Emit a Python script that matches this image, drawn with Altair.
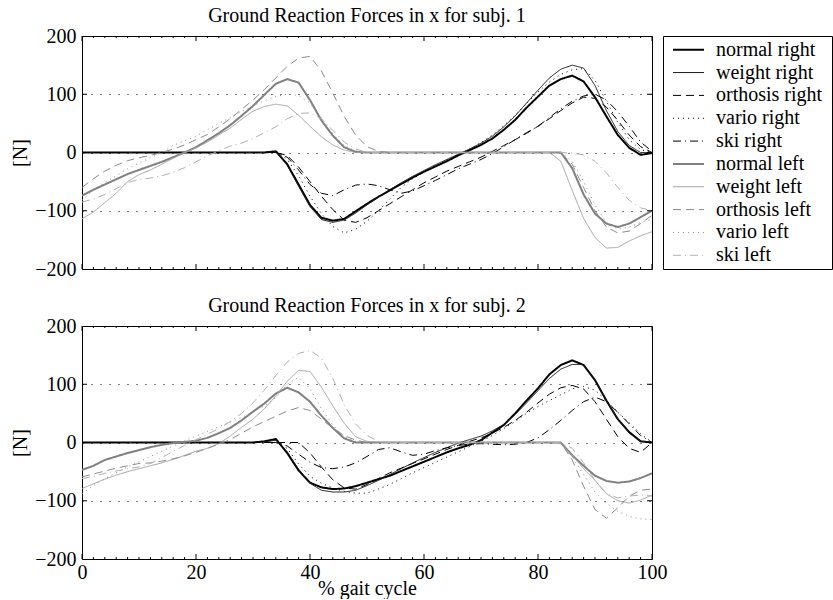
import altair as alt
import pandas as pd

# ---------------- data ----------------
X = [0, 2, 4, 6, 8, 10, 12, 14, 16, 18,
     20, 22, 24, 26, 28, 30, 32, 34, 36, 38,
     40, 42, 44, 46, 48, 50, 52, 54, 56, 58,
     60, 62, 64, 66, 68, 70, 72, 74, 76, 78,
     80, 82, 84, 86, 88, 90, 92, 94, 96, 98,
     100]

SERIES = ["normal right", "weight right", "orthosis right", "vario right", "ski right",
          "normal left", "weight left", "orthosis left", "vario left", "ski left"]
COLORS = ["#000000", "#1a1a1a", "#000000", "#000000", "#000000",
          "#808080", "#a3a3a3", "#8c8c8c", "#8c8c8c", "#b0b0b0"]
DASHES = [[1, 0], [1, 0], [8, 5], [1, 4], [8, 4, 1, 4],
          [1, 0], [1, 0], [8, 5], [1, 4], [8, 4, 1, 4]]
WIDTHS = [2, 1, 1, 1, 1, 2, 1, 1, 1, 1]

# subject 1
t_normal_right = [0, 0, 0, 0, 0, 0, 0, 0, 0, 0,
                  0, 0, 0, 0, 0, 0, 0, 2, -20, -55,
                  -90, -112, -117, -114, -101, -88, -76, -65, -54, -43,
                  -33, -24, -15, -5, 4, 13, 24, 39, 56, 77,
                  96, 115, 126, 132, 122, 95, 62, 30, 8, -4,
                  -1]
t_weight_right = [0, 0, 0, 0, 0, 0, 0, 0, 0, 0,
                  0, 0, 0, 0, 0, 0, 0, 2, -22, -58,
                  -93, -115, -120, -116, -104, -90, -77, -64, -52, -41,
                  -31, -21, -12, -3, 6, 16, 28, 44, 63, 85,
                  107, 128, 143, 150, 145, 115, 72, 36, 12, 0,
                  0]
t_orthosis_right = [0, 0, 0, 0, 0, 0, 0, 0, 0, 0,
                    0, 0, 0, 0, 0, 0, 0, 0, -5, -25,
                    -50, -75, -98, -116, -120, -112, -100, -88, -76, -64,
                    -52, -42, -32, -24, -16, -8, 2, 12, 22, 33,
                    45, 58, 72, 85, 95, 93, 78, 55, 30, 10,
                    0]
t_vario_right = [0, 0, 0, 0, 0, 0, 0, 0, 0, 0,
                 0, 0, 0, 0, 0, 0, 0, 3, -12, -40,
                 -75, -105, -127, -138, -132, -118, -100, -80, -60, -45,
                 -33, -22, -13, -4, 6, 17, 30, 46, 64, 84,
                 104, 121, 134, 142, 144, 124, 88, 52, 22, 5,
                 0]
t_ski_right = [0, 0, 0, 0, 0, 0, 0, 0, 0, 0,
               0, 0, 0, 0, 0, 0, 0, 0, -8, -30,
               -55, -70, -74, -64, -56, -54, -57, -64, -70, -66,
               -57, -48, -38, -28, -20, -12, -2, 10, 22, 34,
               45, 60, 75, 88, 97, 100, 90, 70, 45, 18,
               2]
t_normal_left = [-74, -64, -55, -46, -37, -30, -23, -16, -8, 0,
                 9, 21, 33, 47, 63, 80, 99, 118, 126, 120,
                 90, 55, 29, 9, 1, 0, 0, 0, 0, 0,
                 0, 0, 0, 0, 0, 0, 0, 0, 0, 0,
                 0, 0, 0, -27, -72, -105, -122, -128, -122, -111,
                 -100]
t_weight_left = [-114, -102, -86, -70, -50, -38, -30, -20, -10, 0,
                 8, 18, 30, 42, 57, 71, 79, 83, 80, 64,
                 45, 27, 13, 4, 0, 0, 0, 0, 0, 0,
                 0, 0, 0, 0, 0, 0, 0, 0, 0, 0,
                 0, 0, -15, -65, -113, -146, -164, -163, -152, -143,
                 -136]
t_orthosis_left = [-60, -45, -32, -22, -14, -9, -5, 0, 6, 13,
                   22, 31, 44, 58, 74, 90, 108, 128, 148, 162,
                   165, 140, 102, 62, 30, 10, 2, 0, 0, 0,
                   0, 0, 0, 0, 0, 0, 0, 0, 0, 0,
                   0, 0, 0, -20, -60, -100, -128, -138, -135, -122,
                   -108]
t_vario_left = [-82, -64, -52, -40, -28, -18, -9, 0, 12, 20,
                28, 39, 50, 60, 70, 80, 89, 96, 100, 98,
                85, 60, 32, 12, 3, 0, 0, 0, 0, 0,
                0, 0, 0, 0, 0, 0, 0, 0, 0, 0,
                0, 0, 0, -15, -50, -90, -120, -132, -128, -120,
                -115]
t_ski_left = [-85, -80, -72, -62, -52, -46, -44, -40, -34, -26,
              -16, -6, 3, 11, 16, 24, 34, 44, 58, 67,
              68, 58, 38, 18, 6, 0, 0, 0, 0, 0,
              0, 0, 0, 0, 0, 0, 0, 0, 0, 0,
              0, 0, 0, -1, -4, -15, -35, -60, -82, -95,
              -100]

# subject 2
b_normal_right = [0, 0, 0, 0, 0, 0, 0, 0, 0, 0,
                  0, 0, 0, 0, 0, 0, 2, 6, -18, -48,
                  -69, -77, -80, -79, -75, -69, -63, -57, -49, -41,
                  -33, -25, -17, -10, -4, 4, 17, 30, 50, 72,
                  93, 117, 133, 141, 133, 107, 72, 40, 18, 2,
                  0]
b_weight_right = [0, 0, 0, 0, 0, 0, 0, 0, 0, 0,
                  0, 0, 0, 0, 0, 0, 1, 4, -16, -46,
                  -70, -82, -85, -85, -82, -74, -65, -55, -45, -35,
                  -26, -17, -9, -1, 5, 11, 20, 31, 48, 68,
                  89, 110, 126, 134, 134, 108, 72, 40, 16, 2,
                  0]
b_orthosis_right = [0, 0, 0, 0, 0, 0, 0, 0, 0, 0,
                    0, 0, 0, 0, 0, 0, 0, 0, 0, 0,
                    -18, -42, -64, -78, -80, -72, -62, -52, -44, -36,
                    -28, -20, -12, -5, 2, 8, 16, 26, 38, 52,
                    68, 83, 94, 98, 92, 70, 40, 10, -10, -17,
                    0]
b_vario_right = [0, 0, 0, 0, 0, 0, 0, 0, 0, 0,
                 0, 0, 0, 0, 0, 0, 0, 0, -10, -37,
                 -58, -70, -78, -84, -87, -87, -80, -72, -62, -52,
                 -43, -34, -25, -16, -7, 2, 12, 24, 36, 50,
                 62, 72, 82, 92, 96, 90, 72, 52, 34, 15,
                 0]
b_ski_right = [0, 0, 0, 0, 0, 0, 0, 0, 0, 0,
               0, 0, 0, 0, 0, 0, 0, 0, -6, -20,
               -34, -43, -45, -42, -35, -24, -12, -9, -16, -22,
               -20, -14, -9, -5, -3, -2, -3, -4, -3, 0,
               8, 22, 38, 55, 70, 78, 70, 52, 32, 12,
               0]
b_normal_left = [-47, -40, -30, -24, -18, -13, -8, -4, -1, 1,
                 3, 8, 16, 25, 38, 53, 67, 84, 94, 86,
                 70, 46, 25, 7, 0, 0, 0, 0, 0, 0,
                 0, 0, 0, 0, 0, 0, 0, 0, 0, 0,
                 0, 0, 0, -22, -40, -57, -66, -69, -67, -61,
                 -53]
b_weight_left = [-79, -71, -63, -56, -50, -45, -40, -35, -29, -22,
                 -15, -10, -2, 11, 26, 40, 58, 80, 105, 124,
                 122, 95, 63, 33, 10, 2, 0, 0, 0, 0,
                 0, 0, 0, 0, 0, 0, 0, 0, 0, 0,
                 0, 0, -2, -22, -45, -65, -88, -100, -104, -99,
                 -90]
b_orthosis_left = [-59, -54, -49, -44, -40, -36, -35, -32, -28, -23,
                   -17, -10, -3, 5, 16, 27, 36, 45, 54, 60,
                   55, 40, 25, 12, 4, 0, 0, 0, 0, 0,
                   0, 0, 0, 0, 0, 0, 0, 0, 0, 0,
                   0, 0, 0, -30, -75, -115, -130, -112, -92, -82,
                   -80]
b_vario_left = [-88, -74, -62, -52, -42, -33, -24, -15, -6, 3,
                11, 19, 27, 35, 43, 52, 63, 77, 100, 112,
                92, 58, 30, 10, 2, 0, 0, 0, 0, 0,
                0, 0, 0, 0, 0, 0, 0, 0, 0, 0,
                0, 0, 0, -25, -55, -85, -105, -118, -127, -131,
                -132]
b_ski_left = [-62, -58, -53, -49, -45, -42, -36, -26, -15, -5,
              5, 14, 24, 36, 50, 68, 90, 115, 138, 153,
              158, 145, 110, 65, 32, 12, 2, 0, 0, 0,
              0, 0, 0, 0, 0, 0, 0, 0, 0, 0,
              0, 0, 0, -10, -35, -65, -88, -95, -92, -90,
              -92]

SUBJ1 = [t_normal_right, t_weight_right, t_orthosis_right, t_vario_right, t_ski_right,
         t_normal_left, t_weight_left, t_orthosis_left, t_vario_left, t_ski_left]
SUBJ2 = [b_normal_right, b_weight_right, b_orthosis_right, b_vario_right, b_ski_right,
         b_normal_left, b_weight_left, b_orthosis_left, b_vario_left, b_ski_left]

XTICKS = [0, 20, 40, 60, 80, 100]
XMINOR = [2, 4, 6, 8, 10, 12, 14, 16, 18, 22, 24, 26, 28, 30, 32, 34, 36, 38,
          42, 44, 46, 48, 50, 52, 54, 56, 58, 62, 64, 66, 68, 70, 72, 74, 76, 78,
          82, 84, 86, 88, 90, 92, 94, 96, 98]
YTICKS = [-200, -100, 0, 100, 200]
YINNER = [-100, 0, 100]

TITLES = ["Ground Reaction Forces in x for subj. 1",
          "Ground Reaction Forces in x for subj. 2"]

W, H = 570, 233
LEG_W = 169
FONT = "Liberation Serif"

color_scale = alt.Scale(domain=SERIES, range=COLORS)
dash_scale = alt.Scale(domain=SERIES, range=DASHES)
width_scale = alt.Scale(type="ordinal", domain=SERIES, range=WIDTHS)


def long_frame(values):
    rows = []
    for name, ys in zip(SERIES, values):
        side = "right" if name.endswith("right") else "left"
        for i, (x, y) in enumerate(zip(X, ys)):
            rows.append({"series": name, "side": side, "x": x, "y": y, "order": i})
    return pd.DataFrame(rows)


def panel(values, title, show_x):
    df = long_frame(values)
    xscale = alt.Scale(domain=[0, 100], nice=False, zero=False)
    yscale = alt.Scale(domain=[-200, 200], nice=False, zero=False)
    if show_x:
        xaxis = alt.Axis(values=XTICKS, ticks=False, domain=False, grid=False,
                         title="% gait cycle", labelPadding=3, titleY=35,
                         titleBaseline="alphabetic", labelFlush=False)
    else:
        xaxis = None
    yaxis = alt.Axis(values=YTICKS, ticks=False, domain=False, grid=True,
                     gridDash=[1, 8], gridColor="#000000", gridWidth=1,
                     title="[N]", labelPadding=6, titlePadding=4, labelFlush=False)
    xs = alt.X("x:Q", scale=xscale, axis=xaxis)
    ys = alt.Y("y:Q", scale=yscale, axis=yaxis)
    enc = dict(
        x=xs, y=ys,
        order=alt.Order("order:Q"),
        color=alt.Color("series:N", scale=color_scale, legend=None),
        strokeDash=alt.StrokeDash("series:N", scale=dash_scale, legend=None),
        strokeWidth=alt.StrokeWidth("series:N", scale=width_scale, legend=None),
    )
    right = alt.Chart(df[df.side == "right"]).mark_line(clip=True).encode(**enc)
    left = alt.Chart(df[df.side == "left"]).mark_line(clip=True).encode(**enc)

    xt = pd.DataFrame({"x": XTICKS})
    xm = pd.DataFrame({"x": XMINOR})
    yt = pd.DataFrame({"y": YINNER})
    tick_top = alt.Chart(xt).mark_rule(color="black").encode(x=xs, y=alt.value(0), y2=alt.value(5))
    tick_bot = alt.Chart(xt).mark_rule(color="black").encode(x=xs, y=alt.value(H - 5), y2=alt.value(H))
    minor_top = alt.Chart(xm).mark_rule(color="black").encode(x=xs, y=alt.value(0), y2=alt.value(2))
    minor_bot = alt.Chart(xm).mark_rule(color="black").encode(x=xs, y=alt.value(H - 2), y2=alt.value(H))
    tick_l = alt.Chart(yt).mark_rule(color="black").encode(y=ys, x=alt.value(0), x2=alt.value(5))
    tick_r = alt.Chart(yt).mark_rule(color="black").encode(y=ys, x=alt.value(W - 5), x2=alt.value(W))

    return alt.layer(right, left, tick_top, tick_bot, minor_top, minor_bot, tick_l, tick_r).properties(
        width=W, height=H,
        title=alt.TitleParams(title, anchor="middle", frame="group", offset=0),
    )


# legend drawn as its own small boxed view
leg_df = pd.DataFrame({"series": SERIES})
leg_y = alt.Y("series:N", scale=alt.Scale(type="point", domain=SERIES, padding=0.6), axis=None)
leg_lines = alt.Chart(leg_df).mark_rule().encode(
    y=leg_y, x=alt.value(10), x2=alt.value(41),
    color=alt.Color("series:N", scale=color_scale, legend=None),
    strokeDash=alt.StrokeDash("series:N", scale=dash_scale, legend=None),
    strokeWidth=alt.StrokeWidth("series:N", scale=width_scale, legend=None),
)
leg_text = alt.Chart(leg_df).mark_text(
    align="left", baseline="middle", font=FONT, fontSize=20, color="black"
).encode(y=leg_y, x=alt.value(53), text="series:N")
legend_box = alt.layer(leg_lines, leg_text).properties(width=LEG_W, height=H)

top = panel(SUBJ1, TITLES[0], show_x=False)
bottom = panel(SUBJ2, TITLES[1], show_x=True)

chart = alt.vconcat(
    alt.hconcat(top, legend_box, spacing=9),
    bottom,
    spacing=15,
).properties(
    padding={"left": 10, "top": 5, "right": 0, "bottom": 0}
).configure_view(
    stroke="black", strokeWidth=1
).configure_axis(
    labelFont=FONT, titleFont=FONT, labelFontSize=20, titleFontSize=20,
    labelColor="black", titleColor="black", titleFontWeight="normal"
).configure_title(
    font=FONT, fontSize=20, fontWeight="normal", color="black"
)

chart.save("out.html", embed_options={"renderer": "svg", "actions": False})
